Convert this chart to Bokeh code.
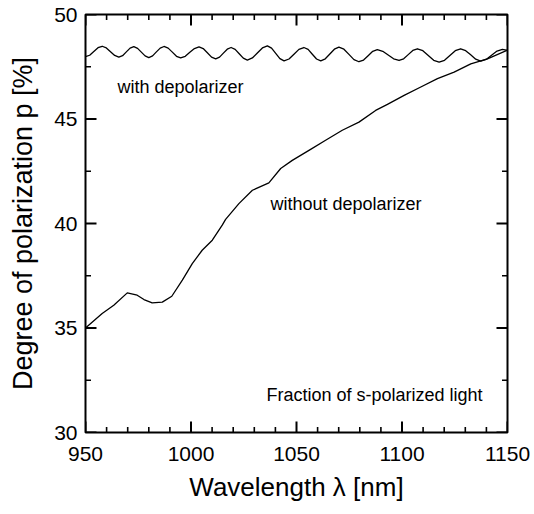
from bokeh.plotting import figure
from bokeh.models import LinearAxis, FixedTicker, Label, Range1d
from bokeh.embed import file_html
from bokeh.resources import INLINE

# ---------------- data ----------------
wl_with = [950.0, 951.98, 953.95, 955.93, 957.9, 959.88, 961.85, 963.83, 965.8,
           967.58, 969.35, 971.13, 972.9, 974.68, 976.45, 978.23, 980.0,
           981.8, 983.6, 985.4, 987.2, 989.18, 991.15, 993.13, 995.1,
           997.28, 999.45, 1001.63, 1003.8, 1005.78, 1007.75, 1009.73, 1011.7,
           1013.53, 1015.35, 1017.18, 1019.0, 1020.93, 1022.85, 1024.78, 1026.7,
           1029.08, 1031.45, 1033.83, 1036.2, 1038.18, 1040.15, 1042.13, 1044.1,
           1046.45, 1048.8, 1051.15, 1053.5, 1055.5, 1057.5, 1059.5, 1061.5,
           1063.65, 1065.8, 1067.95, 1070.1, 1072.48, 1074.85, 1077.23, 1079.6,
           1081.78, 1083.95, 1086.13, 1088.3, 1090.88, 1093.45, 1096.03, 1098.6,
           1100.78, 1102.95, 1105.13, 1107.3, 1109.88, 1112.45, 1115.03, 1117.6,
           1120.15, 1122.7, 1125.25, 1127.8, 1130.18, 1132.55, 1134.93, 1137.3,
           1139.88, 1142.45, 1145.03, 1147.6, 1150.0]
p_with = [47.98, 48.05, 48.23, 48.41, 48.48, 48.40, 48.22, 48.04, 47.96,
          48.03, 48.21, 48.39, 48.46, 48.38, 48.20, 48.02, 47.94,
          48.02, 48.21, 48.39, 48.47, 48.39, 48.20, 48.00, 47.92,
          48.00, 48.19, 48.37, 48.45, 48.37, 48.17, 47.96, 47.88,
          47.96, 48.15, 48.34, 48.42, 48.33, 48.12, 47.91, 47.82,
          47.92, 48.16, 48.40, 48.50, 48.39, 48.14, 47.89, 47.78,
          47.87, 48.10, 48.33, 48.42, 48.33, 48.10, 47.87, 47.78,
          47.88, 48.11, 48.34, 48.44, 48.34, 48.09, 47.84, 47.74,
          47.82, 48.03, 48.24, 48.32, 48.24, 48.06, 47.88, 47.80,
          47.88, 48.08, 48.28, 48.36, 48.27, 48.04, 47.81, 47.72,
          47.81, 48.04, 48.27, 48.36, 48.27, 48.07, 47.86, 47.77,
          47.85, 48.05, 48.25, 48.33, 48.28]

wl_without = [950.0, 957.9, 963.4, 969.8, 974.5, 977.7, 981.6, 986.4, 990.9, 995.9,
              1000.6, 1005.3, 1010.1, 1014.8, 1016.4, 1022.7, 1029.1, 1036.9, 1042.5, 1048.0,
              1055.9, 1063.8, 1071.7, 1079.6, 1087.5, 1093.1, 1101.0, 1108.9, 1116.8, 1124.7,
              1132.6, 1140.5, 1150.0]
p_without = [35.00, 35.69, 36.09, 36.68, 36.57, 36.36, 36.20, 36.24, 36.52, 37.29,
             38.08, 38.72, 39.20, 39.92, 40.20, 40.95, 41.59, 41.94, 42.63, 43.02,
             43.50, 43.98, 44.46, 44.85, 45.41, 45.70, 46.13, 46.53, 46.93, 47.24,
             47.64, 47.88, 48.30]

x_major_ticks = [950, 1000, 1050, 1100, 1150]
x_minor_ticks = [960, 970, 980, 990, 1010, 1020, 1030, 1040, 1060, 1070, 1080, 1090,
                 1110, 1120, 1130, 1140]
y_major_ticks = [30, 35, 40, 45, 50]
y_minor_ticks = [32.5, 37.5, 42.5, 47.5]

x_label = "Wavelength λ [nm]"
y_label = "Degree of polarization p [%]"
annot_with = "with depolarizer"
annot_without = "without depolarizer"
annot_note = "Fraction of s-polarized light"

# ---------------- figure ----------------
W, H = 534, 514
ML, MR, MT, MB = 85, 27, 14, 82
X0, X1, Y0, Y1 = 950, 1150, 30, 50
FONT = "Liberation Sans"

p = figure(width=W, height=H, x_range=Range1d(X0, X1), y_range=Range1d(Y0, Y1),
           output_backend="svg", toolbar_location=None,
           min_border_left=ML, min_border_right=MR, min_border_top=MT, min_border_bottom=MB,
           x_axis_location=None, y_axis_location=None)
p.outline_line_color = "black"
p.outline_line_width = 2
p.xgrid.grid_line_color = None
p.ygrid.grid_line_color = None
p.background_fill_color = "white"
p.border_fill_color = "white"

fw = W - ML - MR
fh = H - MT - MB
dx_px = (X1 - X0) / fw
dy_px = (Y1 - Y0) / fh

def style_axis(ax, label_size):
    ax.axis_line_color = None
    ax.major_tick_line_color = None
    ax.minor_tick_line_color = None
    ax.major_tick_in = 0
    ax.major_tick_out = 0
    ax.minor_tick_in = 0
    ax.minor_tick_out = 0
    ax.major_label_text_font = FONT
    ax.major_label_text_font_size = "21px"
    ax.major_label_text_color = "black"
    ax.axis_label_text_font = FONT
    ax.axis_label_text_font_size = label_size
    ax.axis_label_text_font_style = "normal"
    ax.axis_label_text_color = "black"

xa = LinearAxis(ticker=FixedTicker(ticks=x_major_ticks), axis_label=x_label)
style_axis(xa, "26px")
xa.major_label_standoff = 14
xa.axis_label_standoff = 8
p.add_layout(xa, "below")

ya = LinearAxis(ticker=FixedTicker(ticks=y_major_ticks), axis_label=y_label)
style_axis(ya, "27px")
ya.major_label_standoff = 8
ya.axis_label_standoff = 13
p.add_layout(ya, "left")

# inward ticks on all four sides, drawn as multi_line pieces
tick_xs, tick_ys, tick_w = [], [], []
for vals, L, w in ((x_major_ticks, 11, 2.0), (x_minor_ticks, 5.5, 1.6)):
    Ly = L * dy_px
    for v in vals:
        tick_xs.append([float(v), float(v)]); tick_ys.append([float(Y0), float(Y0 + Ly)]); tick_w.append(w)
        tick_xs.append([float(v), float(v)]); tick_ys.append([float(Y1), float(Y1 - Ly)]); tick_w.append(w)
for vals, L, w in ((y_major_ticks, 11, 2.0), (y_minor_ticks, 5.5, 1.6)):
    Lx = L * dx_px
    for v in vals:
        tick_xs.append([float(X0), float(X0 + Lx)]); tick_ys.append([float(v), float(v)]); tick_w.append(w)
        tick_xs.append([float(X1), float(X1 - Lx)]); tick_ys.append([float(v), float(v)]); tick_w.append(w)
p.multi_line(xs=tick_xs, ys=tick_ys, line_width=tick_w, line_color="black")

p.line(wl_with, p_with, line_color="black", line_width=1.3, line_join="round")
p.line(wl_without, p_without, line_color="black", line_width=1.3, line_join="round")

def sx(px):
    return X0 + (px - ML) * dx_px
def sy(py):
    return Y1 - (py - MT) * dy_px

def add_label(x, y, text, align="left"):
    p.add_layout(Label(x=x, y=y, text=text, text_font=FONT, text_font_size="18px",
                       text_align=align, text_baseline="alphabetic", text_color="black"))

add_label(sx(117), sy(86), annot_with)
add_label(sx(270), sy(203), annot_without)
add_label(sx(482), sy(394), annot_note, align="right")

open("out.html", "w").write(file_html(p, INLINE))
